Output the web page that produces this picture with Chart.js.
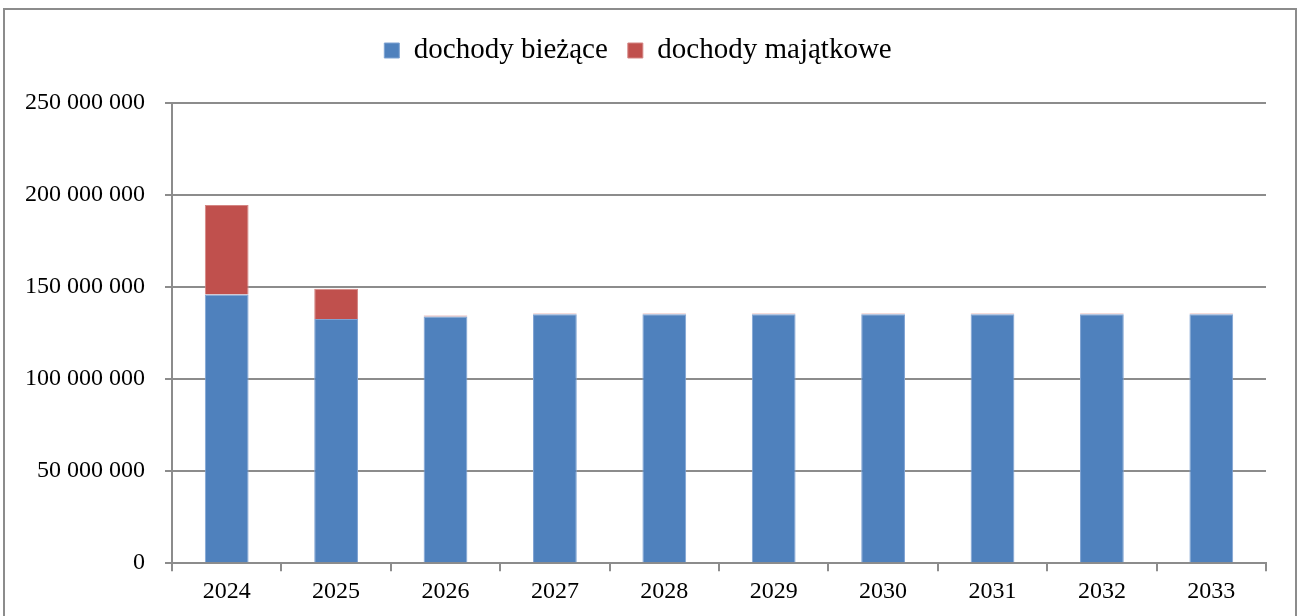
<!DOCTYPE html>
<html>
<head>
<meta charset="utf-8">
<script src="https://cdn.jsdelivr.net/npm/chart.js@4/dist/chart.umd.min.js"></script>
<style>
  body { margin: 0; background: #fff; }
  #wrap { position: relative; width: 1300px; height: 616px; }
</style>
</head>
<body>
<div id="wrap"><canvas id="chart" width="1300" height="616"></canvas></div>
<script>
// categories and series
const years = ['2024', '2025', '2026', '2027', '2028', '2029', '2030', '2031', '2032', '2033'];
const dochodyBiezace = [146000000, 132600000, 134000000, 135200000, 135200000, 135200000, 135200000, 135200000, 135200000, 135200000];
const dochodyMajatkowe = [48600000, 16500000, 500000, 500000, 500000, 500000, 500000, 500000, 500000, 500000];
const seriesNames = ['dochody bieżące', 'dochody majątkowe'];

const fmt = v => String(v).replace(/\B(?=(\d{3})+(?!\d))/g, ' ');
const serif = 'Liberation Serif, Times New Roman, serif';

// outer frame of the chart + extra room under the legend
const framePlugin = {
  id: 'frame',
  afterInit(chart) {
    const legend = chart.legend;
    if (legend && !legend._patched) {
      const fit = legend.fit;
      legend.fit = function () {
        fit.call(this);
        this.height += 28;
      };
      legend._patched = true;
    }
  },
  beforeDraw(chart) {
    const ctx = chart.ctx;
    ctx.save();
    ctx.strokeStyle = '#8c8c8c';
    ctx.lineWidth = 2;
    ctx.strokeRect(4, 9, 1292, 700);
    ctx.restore();
  }
};

new Chart(document.getElementById('chart'), {
  type: 'bar',
  data: {
    labels: years,
    datasets: [
      {
        label: seriesNames[0],
        data: dochodyBiezace,
        backgroundColor: '#4F81BD',
        borderColor: '#7FA3D3',
        borderWidth: 1,
        barPercentage: 0.4,
        categoryPercentage: 1
      },
      {
        label: seriesNames[1],
        data: dochodyMajatkowe,
        backgroundColor: '#C0504D',
        borderColor: '#D48583',
        borderWidth: 1,
        barPercentage: 0.4,
        categoryPercentage: 1
      }
    ]
  },
  options: {
    responsive: false,
    animation: false,
    layout: { padding: { left: 10, right: 34, top: 16, bottom: 4 } },
    plugins: {
      legend: {
        position: 'top',
        labels: {
          font: { family: serif, size: 29 },
          color: '#000',
          boxWidth: 15,
          boxHeight: 15,
          padding: 20
        }
      },
      tooltip: { enabled: false }
    },
    scales: {
      x: {
        stacked: true,
        grid: { drawOnChartArea: false, drawTicks: true, tickLength: 8, color: '#8c8c8c', lineWidth: 2 },
        border: { color: '#8c8c8c', width: 2 },
        ticks: { font: { family: serif, size: 24 }, color: '#000', padding: 6 }
      },
      y: {
        stacked: true,
        min: 0,
        max: 250000000,
        grid: { color: '#8c8c8c', lineWidth: 2, tickLength: 7 },
        border: { color: '#8c8c8c', width: 2 },
        ticks: {
          stepSize: 50000000,
          font: { family: serif, size: 24 },
          color: '#000',
          padding: 20,
          callback: v => fmt(v)
        },
        afterFit(scale) { scale.width = 162; }
      }
    }
  },
  plugins: [framePlugin]
});
</script>
</body>
</html>
